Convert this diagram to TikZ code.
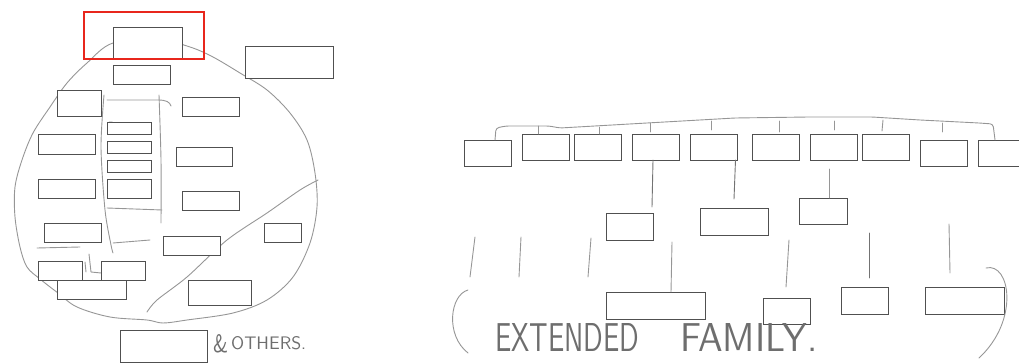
\documentclass[tikz,border=0pt]{standalone}
\usetikzlibrary{fit}
\definecolor{boxgray}{RGB}{80,80,80}
\definecolor{pencil}{RGB}{150,150,150}
\definecolor{hand}{RGB}{110,110,110}
\definecolor{marker}{RGB}{232,38,28}
\newcommand\bx[5]{\node[box,fit={(#2,#3)(#4,#5)}] (#1) {};}
\begin{document}
\begin{tikzpicture}[x=1pt,y=-1pt,
  box/.style={draw=boxgray,line width=0.95pt,fill=white,inner sep=0pt,outer sep=0pt},
  sketch/.style={draw=pencil,line width=0.9pt,line cap=round,line join=round},
  handtext/.style={text=hand,inner sep=0pt,font=\sffamily}]
\useasboundingbox (0,0) rectangle (1019,363);
\clip (0,0) rectangle (1019,363);

% ---------- household circle ----------
\draw[sketch] plot[smooth cycle,tension=0.55] coordinates {
  (113,43) (87,63) (67,83) (50,107) (33,133) (22,160) (15,187) (15,217)
  (20,247) (27,267) (40,279) (58,293) (77,307) (110,317) (147,320) (163,323)
  (187,320) (233,313) (267,300) (293,277) (310,243) (317,207) (315,173)
  (307,140) (290,113) (267,90) (240,73) (213,57) (190,47) (160,40)};
% dividing stroke
\draw[sketch] plot[smooth,tension=0.5] coordinates {
  (147,312) (157,300) (187,277) (227,240) (267,213) (300,190) (318,180)};
% bracket round the inner stack
\draw[sketch] plot[smooth,tension=0.5] coordinates {(104,95) (101,147) (105,210) (111,245) (113,253)};
\draw[sketch] (107,100) -- (158,100) .. controls (166,100) and (170,102) .. (171,106);
\draw[sketch] plot[smooth,tension=0.5] coordinates {(159,95) (161,160) (161,223)};
\draw[sketch] (107,208) -- (162,210);
\draw[sketch] (113,243) -- (150,240);
\draw[sketch] (37,248) -- (80,247);
\draw[sketch] (85,262) -- (86,272);
\draw[sketch] (89,254) -- (91,272) -- (101,273);
\draw[sketch] (109,126) .. controls (106,122) and (112,120) .. (114,124);

% ---------- household boxes ----------
\bx{head}{113}{27}{182}{59}
\bx{h2}{113}{65}{170}{84}
\bx{outA}{245}{46}{333}{78}
\bx{l1}{57}{90}{101}{116}
\bx{rt1}{182}{97}{239}{116}
\bx{l2}{38}{134}{95}{154}
\bx{s1}{107}{122}{151}{134}
\bx{s2}{107}{141}{151}{153}
\bx{s3}{107}{160}{151}{172}
\bx{s4}{107}{179}{151}{198}
\bx{rt2}{176}{147}{232}{166}
\bx{l3}{38}{179}{95}{198}
\bx{rt3}{182}{191}{239}{210}
\bx{l4}{44}{223}{101}{242}
\bx{rt4}{264}{223}{301}{242}
\bx{m1}{163}{236}{220}{255}
\bx{b1}{38}{261}{82}{280}
\bx{b2}{101}{261}{145}{280}
\bx{b3}{57}{280}{126}{299}
\bx{b4}{188}{280}{251}{305}
\bx{outB}{120}{330}{207}{362}
\node[draw=marker,line width=2pt,inner sep=0pt,fit={(84,12)(204,59)}] (focus) {};
\node[handtext,anchor=base west] (amp) at (213,352) {\resizebox{15pt}{18pt}{\&}};
\node[handtext,anchor=base west] (others) at (231,349) {\resizebox{75pt}{13pt}{OTHERS.}};

% ---------- extended family ----------
\bx{r1}{464}{140}{511}{166}
\bx{r2}{522}{134}{569}{160}
\bx{r3}{574}{134}{621}{160}
\bx{r4}{632}{134}{679}{160}
\bx{r5}{690}{134}{737}{160}
\bx{r6}{752}{134}{799}{160}
\bx{r7}{810}{134}{857}{160}
\bx{r8}{862}{134}{909}{160}
\bx{r9}{920}{140}{967}{166}
\bx{r10}{978}{140}{1025}{166}
\bx{u1}{606}{213}{653}{240}
\bx{u2}{700}{208}{768}{235}
\bx{u3}{799}{198}{847}{224}
\bx{t1}{606}{292}{705}{319}
\bx{t2}{763}{298}{810}{324}
\bx{t3}{841}{287}{888}{314}
\bx{t4}{925}{287}{1004}{314}

% bar joining the siblings
\draw[sketch,rounded corners=3pt] ([xshift=7.5pt]r1.north) -- (496,128) -- (506,126)
  -- (549,126) -- (560,128) -- (647,123) -- (735,118) -- (809,117) -- (872,117)
  -- (920,120) -- (979,123) -- (993,124) -- ([xshift=-6.5pt]r10.north);
\draw[sketch] (538,126) -- ([xshift=-7.5pt]r2.north);
\draw[sketch] (599,127) -- ([xshift=1.5pt]r3.north);
\draw[sketch] (650,123) -- (650,132);
\draw[sketch] (711,121) -- (711,130);
\draw[sketch] (779,121) -- (779,132);
\draw[sketch] (834,121) -- (834,130);
\draw[sketch] (883,120) -- (882,131);
\draw[sketch] (942,123) -- (942,132);

% descent lines
\draw[sketch,draw=boxgray!80] ([xshift=-2.5pt]r4.south) -- (652,207);
\draw[sketch,draw=boxgray!80] ([xshift=22pt]r5.south) -- (734,199);
\draw[sketch] ([xshift=6pt]u3.north) -- ++(0,-29);
\draw[sketch] (475,237) -- (470,277);
\draw[sketch] (521,237) -- (519,277);
\draw[sketch] (591,238) -- (588,277);
\draw[sketch] (672,242) -- ([xshift=15.5pt]t1.north);
\draw[sketch] (789,240) -- (786,287);
\draw[sketch,draw=boxgray!80] (869,233) -- (869,278);
\draw[sketch] (949,224) -- (950,273);

% parentheses round the extended family
\draw[sketch] (468,290) .. controls (450,295) and (445,335) .. (468,353);
\draw[sketch] (986,268) .. controls (1010,262) and (1020,320) .. (979,358);

\node[handtext,anchor=base west] (ext) at (495,351) {\resizebox{144pt}{28pt}{EXTENDED}};
\node[handtext,anchor=base west] (fam) at (680,351) {\resizebox{137pt}{28pt}{FAMILY.}};
\end{tikzpicture}
\end{document}
